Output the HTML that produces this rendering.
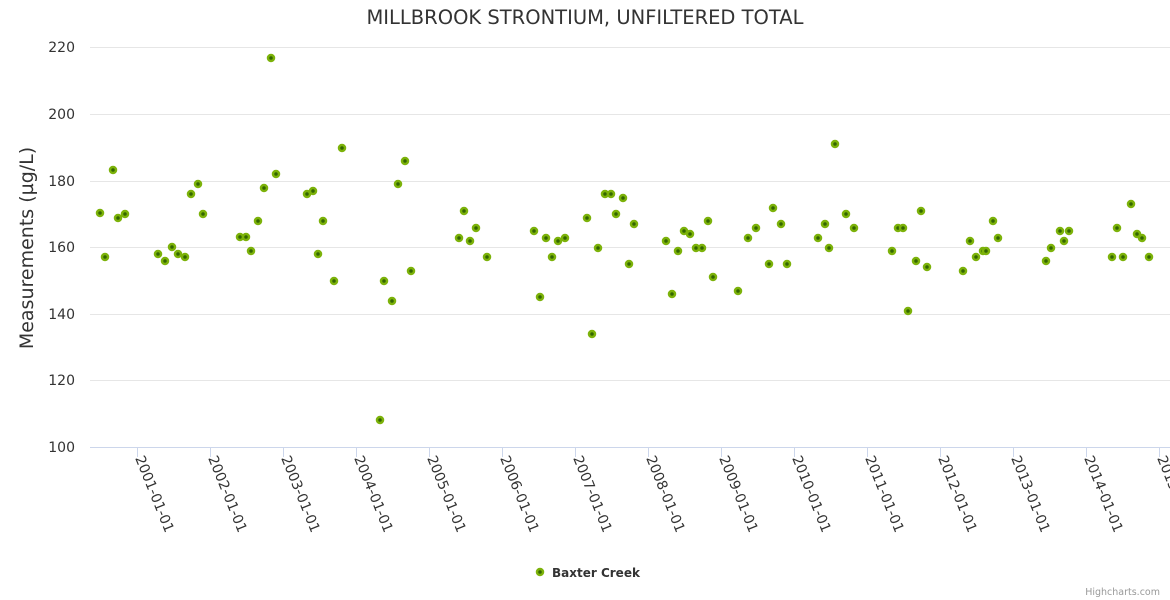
<!DOCTYPE html>
<html><head><meta charset="utf-8"><style>
body{margin:0;background:#fff}
svg{display:block;font-family:"DejaVu Sans","Liberation Sans",sans-serif}
</style></head><body>
<svg width="1170" height="600" xmlns="http://www.w3.org/2000/svg">
<rect width="1170" height="600" fill="#fff"/>
<text x="585" y="24" text-anchor="middle" font-size="19.5" fill="#333">MILLBROOK STRONTIUM, UNFILTERED TOTAL</text>
<g stroke="#e6e6e6" stroke-width="1">
<line x1="90" x2="1170" y1="47.5" y2="47.5"/>
<line x1="90" x2="1170" y1="114.5" y2="114.5"/>
<line x1="90" x2="1170" y1="181.5" y2="181.5"/>
<line x1="90" x2="1170" y1="247.5" y2="247.5"/>
<line x1="90" x2="1170" y1="314.5" y2="314.5"/>
<line x1="90" x2="1170" y1="380.5" y2="380.5"/>
</g>
<line x1="90" x2="1170" y1="447.5" y2="447.5" stroke="#ccd6eb"/>
<g font-size="14" fill="#333" text-anchor="end">
<text x="75" y="52">220</text><text x="75" y="119">200</text><text x="75" y="186">180</text>
<text x="75" y="252">160</text><text x="75" y="319">140</text><text x="75" y="385">120</text><text x="75" y="452">100</text>
</g>
<text transform="translate(33,248) rotate(-90)" text-anchor="middle" font-size="19" fill="#333">Measurements (µg/L)</text>
<g stroke="#ccd6eb">
<line x1="137.5" x2="137.5" y1="447" y2="457"/><line x1="210.5" x2="210.5" y1="447" y2="457"/>
<line x1="283.5" x2="283.5" y1="447" y2="457"/><line x1="356.5" x2="356.5" y1="447" y2="457"/>
<line x1="429.5" x2="429.5" y1="447" y2="457"/><line x1="502.5" x2="502.5" y1="447" y2="457"/>
<line x1="575.5" x2="575.5" y1="447" y2="457"/><line x1="648.5" x2="648.5" y1="447" y2="457"/>
<line x1="721.5" x2="721.5" y1="447" y2="457"/><line x1="794.5" x2="794.5" y1="447" y2="457"/>
<line x1="867.5" x2="867.5" y1="447" y2="457"/><line x1="940.5" x2="940.5" y1="447" y2="457"/>
<line x1="1013.5" x2="1013.5" y1="447" y2="457"/><line x1="1086.5" x2="1086.5" y1="447" y2="457"/>
<line x1="1159.5" x2="1159.5" y1="447" y2="457"/>
</g>
<g font-size="14" fill="#333">
<text transform="translate(135,458) rotate(68)">2001-01-01</text>
<text transform="translate(208,458) rotate(68)">2002-01-01</text>
<text transform="translate(281,458) rotate(68)">2003-01-01</text>
<text transform="translate(354,458) rotate(68)">2004-01-01</text>
<text transform="translate(427,458) rotate(68)">2005-01-01</text>
<text transform="translate(500,458) rotate(68)">2006-01-01</text>
<text transform="translate(573,458) rotate(68)">2007-01-01</text>
<text transform="translate(646,458) rotate(68)">2008-01-01</text>
<text transform="translate(719,458) rotate(68)">2009-01-01</text>
<text transform="translate(792,458) rotate(68)">2010-01-01</text>
<text transform="translate(865,458) rotate(68)">2011-01-01</text>
<text transform="translate(938,458) rotate(68)">2012-01-01</text>
<text transform="translate(1011,458) rotate(68)">2013-01-01</text>
<text transform="translate(1084,458) rotate(68)">2014-01-01</text>
<text transform="translate(1157,458) rotate(68)">2015-01-01</text>
</g>
<g fill="#336600" stroke="#7cb20a" stroke-width="2.5">
<circle cx="100" cy="213" r="3"/><circle cx="105" cy="257" r="3"/><circle cx="113" cy="170" r="3"/><circle cx="118" cy="218" r="3"/><circle cx="125" cy="214" r="3"/>
<circle cx="158" cy="254" r="3"/><circle cx="165" cy="261" r="3"/><circle cx="172" cy="247" r="3"/><circle cx="178" cy="254" r="3"/><circle cx="185" cy="257" r="3"/><circle cx="191" cy="194" r="3"/><circle cx="198" cy="184" r="3"/><circle cx="203" cy="214" r="3"/>
<circle cx="240" cy="237" r="3"/><circle cx="246" cy="237" r="3"/><circle cx="251" cy="251" r="3"/><circle cx="258" cy="221" r="3"/><circle cx="264" cy="188" r="3"/><circle cx="271" cy="58" r="3"/><circle cx="276" cy="174" r="3"/>
<circle cx="307" cy="194" r="3"/><circle cx="313" cy="191" r="3"/><circle cx="318" cy="254" r="3"/><circle cx="323" cy="221" r="3"/><circle cx="334" cy="281" r="3"/><circle cx="342" cy="148" r="3"/>
<circle cx="380" cy="420" r="3"/><circle cx="384" cy="281" r="3"/><circle cx="392" cy="301" r="3"/><circle cx="398" cy="184" r="3"/><circle cx="405" cy="161" r="3"/><circle cx="411" cy="271" r="3"/>
<circle cx="459" cy="238" r="3"/><circle cx="464" cy="211" r="3"/><circle cx="470" cy="241" r="3"/><circle cx="476" cy="228" r="3"/><circle cx="487" cy="257" r="3"/>
<circle cx="534" cy="231" r="3"/><circle cx="540" cy="297" r="3"/><circle cx="546" cy="238" r="3"/><circle cx="552" cy="257" r="3"/><circle cx="558" cy="241" r="3"/><circle cx="565" cy="238" r="3"/>
<circle cx="587" cy="218" r="3"/><circle cx="592" cy="334" r="3"/><circle cx="598" cy="248" r="3"/><circle cx="605" cy="194" r="3"/><circle cx="611" cy="194" r="3"/><circle cx="616" cy="214" r="3"/><circle cx="623" cy="198" r="3"/><circle cx="629" cy="264" r="3"/><circle cx="634" cy="224" r="3"/>
<circle cx="666" cy="241" r="3"/><circle cx="672" cy="294" r="3"/><circle cx="678" cy="251" r="3"/><circle cx="684" cy="231" r="3"/><circle cx="690" cy="234" r="3"/><circle cx="696" cy="248" r="3"/><circle cx="702" cy="248" r="3"/><circle cx="708" cy="221" r="3"/><circle cx="713" cy="277" r="3"/>
<circle cx="738" cy="291" r="3"/><circle cx="748" cy="238" r="3"/><circle cx="756" cy="228" r="3"/><circle cx="769" cy="264" r="3"/><circle cx="773" cy="208" r="3"/><circle cx="781" cy="224" r="3"/><circle cx="787" cy="264" r="3"/>
<circle cx="818" cy="238" r="3"/><circle cx="825" cy="224" r="3"/><circle cx="829" cy="248" r="3"/><circle cx="835" cy="144" r="3"/><circle cx="846" cy="214" r="3"/><circle cx="854" cy="228" r="3"/>
<circle cx="892" cy="251" r="3"/><circle cx="898" cy="228" r="3"/><circle cx="903" cy="228" r="3"/><circle cx="908" cy="311" r="3"/><circle cx="916" cy="261" r="3"/><circle cx="921" cy="211" r="3"/><circle cx="927" cy="267" r="3"/>
<circle cx="963" cy="271" r="3"/><circle cx="970" cy="241" r="3"/><circle cx="976" cy="257" r="3"/><circle cx="983" cy="251" r="3"/><circle cx="986" cy="251" r="3"/><circle cx="993" cy="221" r="3"/><circle cx="998" cy="238" r="3"/>
<circle cx="1046" cy="261" r="3"/><circle cx="1051" cy="248" r="3"/><circle cx="1060" cy="231" r="3"/><circle cx="1064" cy="241" r="3"/><circle cx="1069" cy="231" r="3"/>
<circle cx="1112" cy="257" r="3"/><circle cx="1117" cy="228" r="3"/><circle cx="1123" cy="257" r="3"/><circle cx="1131" cy="204" r="3"/><circle cx="1137" cy="234" r="3"/><circle cx="1142" cy="238" r="3"/><circle cx="1149" cy="257" r="3"/>
<circle cx="540" cy="572" r="3"/>
</g>
<text x="552" y="577" font-size="12" font-weight="bold" fill="#333">Baxter Creek</text>
<text x="1160" y="595" text-anchor="end" font-size="9.5" fill="#999">Highcharts.com</text>
</svg>
</body></html>
